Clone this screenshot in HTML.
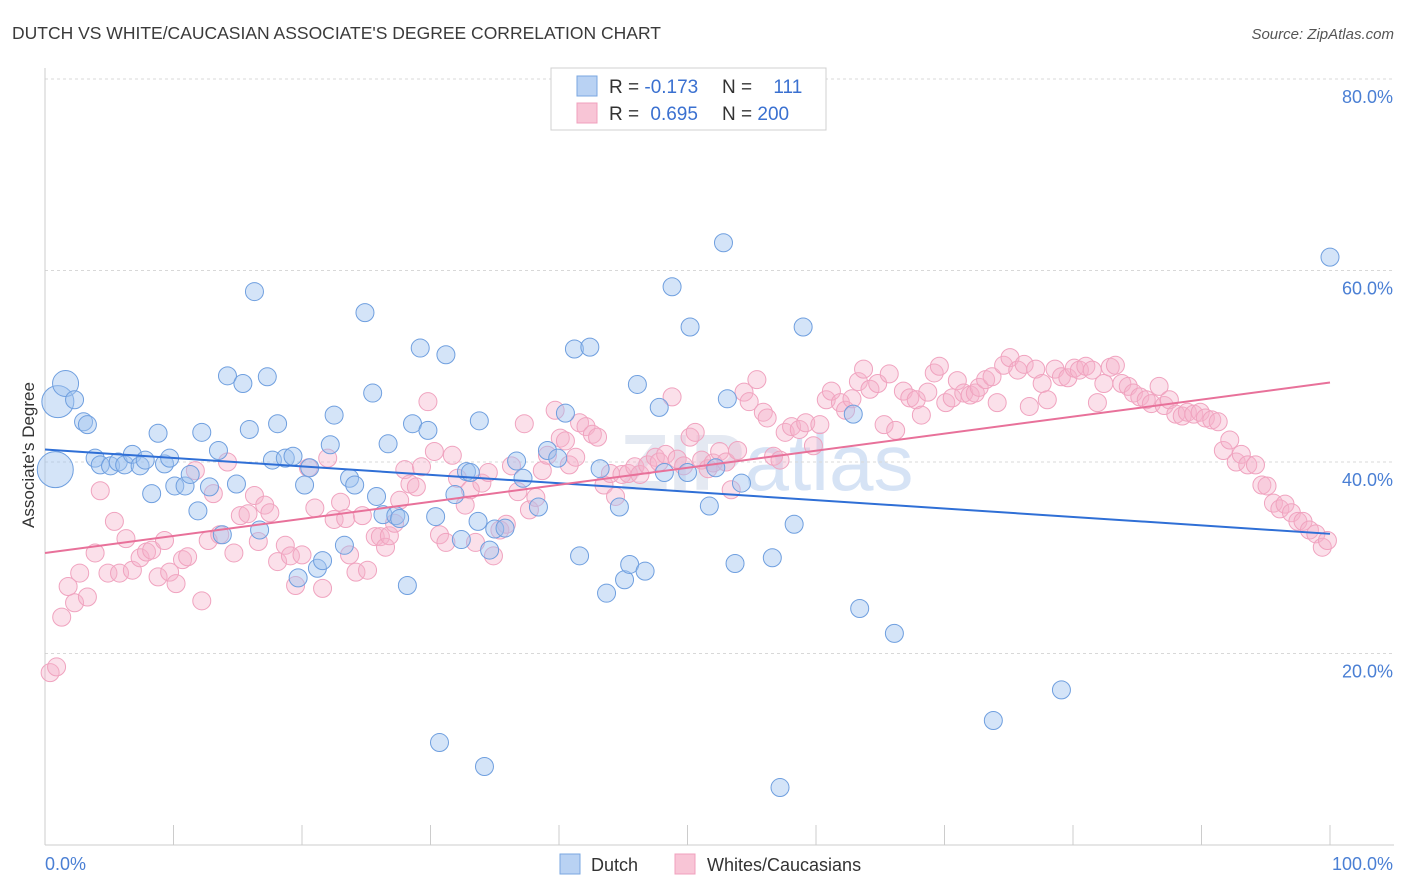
<!DOCTYPE html>
<html><head><meta charset="utf-8">
<style>
body{margin:0;background:#fff;font-family:"Liberation Sans",sans-serif;}
svg{display:block}
</style></head>
<body>
<svg id="chart" width="1406" height="892">
<text x="12" y="39" font-size="17.5" fill="#3a3a3a">DUTCH VS WHITE/CAUCASIAN ASSOCIATE'S DEGREE CORRELATION CHART</text>
<text x="1394" y="39" font-size="15" fill="#555" font-style="italic" text-anchor="end">Source: ZipAtlas.com</text>
<text x="620" y="490" font-size="80" font-weight="bold" fill="#e4e9f2">ZIP<tspan font-weight="normal" fill="#d6e3f5">atlas</tspan></text>
<g id="grid"></g>
<g id="axes"></g>
<g id="pinkPts"></g>
<g id="bluePts"></g>
<g id="trends"></g>
<text transform="translate(34,455) rotate(-90)" font-size="17" fill="#333" text-anchor="middle">Associate's Degree</text>
<g>
<rect x="551" y="68" width="275" height="62" fill="#fff" stroke="#d0d0d0"/>
<rect x="577" y="76" width="20" height="20" fill="#b9d2f3" stroke="#7aa7e0"/>
<rect x="577" y="103" width="20" height="20" fill="#f8c5d6" stroke="#f0a0bd"/>
<text x="609" y="93" font-size="19" fill="#333">R = <tspan fill="#3a70d0">-0.173</tspan></text>
<text x="722" y="93" font-size="19" fill="#333">N = <tspan fill="#3a70d0" dx="16">111</tspan></text>
<text x="609" y="120" font-size="19" fill="#333">R = <tspan fill="#3a70d0" dx="6">0.695</tspan></text>
<text x="722" y="120" font-size="19" fill="#333">N = <tspan fill="#3a70d0">200</tspan></text>
</g>
<g>
<rect x="560" y="854" width="20" height="20" fill="#b9d2f3" stroke="#7aa7e0"/>
<text x="591" y="871" font-size="18" fill="#333">Dutch</text>
<rect x="675" y="854" width="20" height="20" fill="#f8c5d6" stroke="#f0a0bd"/>
<text x="707" y="871" font-size="18" fill="#333">Whites/Caucasians</text>
</g>
</svg>
<script>
const yTicks=[20,40,60,80];
const xTickLabels=["0.0%","100.0%"];
const blueX=[0.8,1.0,1.6,2.3,3.0,3.3,3.9,4.3,5.1,5.7,6.2,6.8,7.4,7.8,8.3,8.8,9.3,9.7,10.1,10.9,11.3,11.9,12.2,12.8,13.5,13.8,14.2,14.9,15.4,16.3,15.9,16.7,17.3,17.7,18.1,18.7,19.3,19.7,20.2,20.6,21.2,21.6,22.2,22.5,23.3,23.7,24.1,24.9,25.5,25.8,26.3,26.7,27.3,27.6,28.2,28.6,29.2,29.8,30.4,30.7,31.2,31.9,32.4,32.8,33.1,33.7,33.8,34.2,34.6,35.0,35.8,36.7,37.2,38.4,39.1,39.9,40.5,41.2,41.6,42.4,43.2,43.7,44.7,45.1,45.5,46.1,46.7,47.8,48.2,48.8,50.0,50.2,51.7,52.2,52.8,53.7,54.2,53.1,56.6,57.2,58.3,59.0,62.9,63.4,66.1,73.8,79.1,100.0];
const blueY=[39.2,46.3,48.2,46.5,44.2,43.9,40.4,39.7,39.6,40.0,39.7,40.8,39.6,40.2,36.7,43.0,39.8,40.4,37.5,37.5,38.7,34.9,43.1,37.4,41.2,32.4,49.0,37.7,48.2,57.8,43.4,32.9,48.9,40.2,44.0,40.4,40.6,27.9,37.6,39.4,28.9,29.7,41.8,44.9,31.3,38.3,37.6,55.6,47.2,36.4,34.5,41.9,34.4,34.1,27.1,44.0,51.9,43.3,34.3,10.7,51.2,36.6,31.9,39.0,38.9,33.8,44.3,8.2,30.8,33.0,33.1,40.1,38.3,35.3,41.2,40.4,45.1,51.8,30.2,52.0,39.3,26.3,35.3,27.7,29.3,48.1,28.6,45.7,38.9,58.3,38.9,54.1,35.4,39.4,62.9,29.4,37.8,46.6,30.0,6.0,33.5,54.1,45.0,24.7,22.1,13.0,16.2,61.4];
const blueSize=[18,16,13];
const pinkX=[0.4,0.9,1.3,1.8,2.3,2.7,3.3,3.9,4.3,4.9,5.4,5.8,6.3,6.8,7.4,7.9,8.3,8.8,9.3,9.7,10.2,10.7,11.1,11.7,12.2,12.7,13.1,13.6,14.2,14.7,15.2,15.8,16.3,16.6,17.1,17.5,18.1,18.7,19.1,19.5,20.0,20.5,21.0,21.6,22.0,22.5,23.0,23.4,23.7,24.2,24.7,25.1,25.7,26.1,26.5,26.8,27.2,27.6,28.0,28.4,28.9,29.3,29.8,30.3,30.7,31.2,31.7,32.1,32.7,33.1,33.5,34.0,34.5,34.9,35.4,35.9,36.3,36.8,37.3,37.7,38.2,38.7,39.1,39.7,40.1,40.5,40.8,41.3,41.6,42.1,42.6,43.0,43.5,44.0,44.4,44.9,45.4,45.9,46.3,46.9,47.5,47.8,48.3,48.8,49.2,49.7,50.2,50.6,51.1,51.6,52.0,52.5,53.0,53.4,53.9,54.4,54.8,55.4,55.9,56.2,56.7,57.2,57.6,58.1,58.7,59.2,59.8,60.3,60.8,61.2,61.9,62.3,62.8,63.3,63.7,64.2,64.8,65.3,65.7,66.2,66.8,67.3,67.8,68.2,68.7,69.2,69.6,70.1,70.6,71.0,71.5,72.0,72.4,72.7,73.2,73.7,74.1,74.6,75.1,75.7,76.2,76.6,77.1,77.6,78.0,78.6,79.1,79.6,80.1,80.5,81.0,81.5,81.9,82.4,82.9,83.3,83.8,84.3,84.7,85.2,85.7,86.1,86.7,87.1,87.5,88.0,88.5,88.9,89.4,89.9,90.3,90.8,91.3,91.7,92.2,92.7,93.1,93.6,94.2,94.7,95.1,95.6,96.1,96.5,97.0,97.5,97.9,98.4,98.9,99.4,99.8];
const pinkY=[18.0,18.6,23.8,27.0,25.3,28.4,25.9,30.5,37.0,28.4,33.8,28.4,32.0,28.7,30.0,30.6,30.8,28.0,31.8,28.5,27.3,29.8,30.1,39.1,25.5,31.8,36.7,32.4,40.0,30.5,34.4,34.6,36.5,31.7,35.5,34.7,29.6,31.3,30.2,27.1,30.3,39.4,35.2,26.8,40.4,34.0,35.8,34.1,30.3,28.5,34.4,28.7,32.2,32.2,31.1,32.3,33.6,36.0,39.2,37.7,37.4,39.5,46.3,41.1,32.4,31.6,40.7,38.3,35.5,37.1,31.6,37.8,38.9,30.2,32.9,33.5,39.6,36.9,44.0,35.0,36.3,39.1,40.7,45.4,42.5,42.2,39.7,40.5,44.1,43.7,42.9,42.6,37.6,38.8,36.4,38.7,38.8,39.5,38.7,39.7,40.5,40.0,40.8,46.8,40.3,39.6,42.6,43.1,40.2,39.3,39.9,41.1,40.0,37.1,41.2,47.3,46.3,48.6,45.2,44.6,40.6,40.2,43.1,43.7,43.4,44.1,41.7,43.9,46.5,47.4,46.2,45.4,46.6,48.4,49.7,47.6,48.2,43.9,49.2,43.3,47.4,46.7,46.5,44.9,47.3,49.3,50.0,46.2,46.7,48.5,47.2,47.0,47.2,47.8,48.6,48.9,46.2,50.1,50.9,49.6,50.2,45.8,49.7,48.2,46.5,49.7,48.9,48.8,49.8,49.6,50.0,49.6,46.2,48.2,49.9,50.1,48.2,47.9,47.2,46.8,46.5,46.1,47.9,45.9,46.5,45.0,44.8,45.2,45.0,45.2,44.6,44.4,44.2,41.2,42.3,40.0,40.8,39.7,39.7,37.6,37.5,35.7,35.1,35.6,34.7,33.8,33.8,32.9,32.5,31.1,31.8];
const blueTrend=[41.3,32.5];
const pinkTrend=[30.5,48.3];

const NS="http://www.w3.org/2000/svg";
const X0=45,X1=1330,YTOP=79,YBOT=845;
function xs(v){return X0+(X1-X0)*v/100;}
function ys(v){return YBOT-(YBOT-YTOP)*v/80;}
function mk(tag,attrs,parent){const e=document.createElementNS(NS,tag);for(const k in attrs)e.setAttribute(k,attrs[k]);parent.appendChild(e);return e;}

const grid=document.getElementById('grid');
yTicks.forEach(t=>{
  const l=mk('line',{x1:X0,x2:1394,y1:ys(t),y2:ys(t),stroke:'#d8d8d8','stroke-dasharray':'3,3'},grid);
  
  
  const tx=mk('text',{x:1393,y:ys(t)+24,'font-size':18,fill:'#4a7fd4','text-anchor':'end'},grid);
  tx.textContent=t.toFixed(1)+'%';
  
  
});
const axes=document.getElementById('axes');
const ya=mk('line',{x1:X0,x2:X0,y1:68,y2:YBOT,stroke:'#ccc'},axes);


const xa=mk('line',{x1:X0,x2:1394,y1:YBOT,y2:YBOT,stroke:'#ccc'},axes);


for(let i=0;i<=10;i++){
  const t=mk('line',{x1:xs(i*10),x2:xs(i*10),y1:825,y2:YBOT,stroke:'#ccc'},axes);
  
  
}
const xl0=mk('text',{x:45,y:870,'font-size':18,fill:'#4a7fd4'},axes);
xl0.textContent=xTickLabels[0];


const xl1=mk('text',{x:1393,y:870,'font-size':18,fill:'#4a7fd4','text-anchor':'end'},axes);
xl1.textContent=xTickLabels[1];



const pg=document.getElementById('pinkPts');
pinkX.forEach((x,i)=>{
  const c=mk('circle',{cx:xs(x),cy:ys(pinkY[i]),r:9,fill:'rgba(246,178,203,0.4)',stroke:'#f0a3bf','stroke-width':1},pg);
  
  
});
const bg=document.getElementById('bluePts');
blueX.forEach((x,i)=>{
  const c=mk('circle',{cx:xs(x),cy:ys(blueY[i]),r:blueSize[i]||9,fill:'rgba(160,195,240,0.45)',stroke:'#6f9fdf','stroke-width':1},bg);
  
  
});
const tg=document.getElementById('trends');
const bt=mk('line',{x1:xs(0),y1:ys(blueTrend[0]),x2:xs(100),y2:ys(blueTrend[1]),stroke:'#2f6fd6','stroke-width':2},tg);


const pt=mk('line',{x1:xs(0),y1:ys(pinkTrend[0]),x2:xs(100),y2:ys(pinkTrend[1]),stroke:'#e8719a','stroke-width':2},tg);


</script>
</body></html>
